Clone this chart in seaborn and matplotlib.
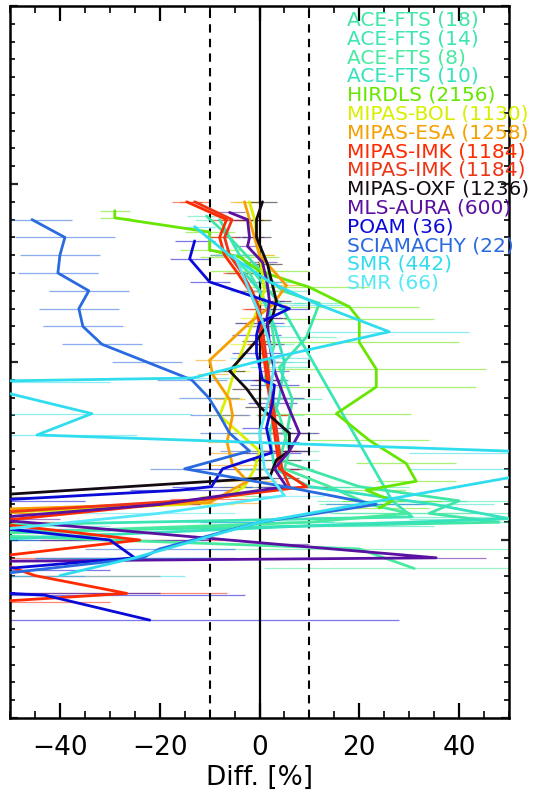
import numpy as np
import pandas as pd
import matplotlib
matplotlib.use("Agg")
import matplotlib.pyplot as plt
from matplotlib.ticker import MultipleLocator
import seaborn as sns

sns.set_theme(style="white")
plt.rcParams["font.family"] = ["DejaVu Sans"]

labels = ["ACE-FTS (18)", "ACE-FTS (14)", "ACE-FTS (8)", "ACE-FTS (10)", "HIRDLS (2156)",
          "MIPAS-BOL (1130)", "MIPAS-ESA (1258)", "MIPAS-IMK (1184)", "MIPAS-IMK (1184)",
          "MIPAS-OXF (1236)", "MLS-AURA (600)", "POAM (36)", "SCIAMACHY (22)", "SMR (442)", "SMR (66)"]
colors = ["#40E6A6", "#3CE6B4", "#48EAA0", "#36E2BE", "#66E600", "#D8F000", "#F5A000",
          "#FF2A00", "#EE3414", "#140A14", "#5A10A0", "#0A0AD8", "#2A6AE0", "#30DDEE", "#55E8F8"]

alt_ace18 = [38.2, 37, 35.5, 34, 33.3, 31.4, 29.7, 27.9, 26, 24.5, 23, 22.2, 21.5, 21, 20.4]
dif_ace18 = [-10.6, -6, -1, 4.6, 12, 9.4, 4, 6.6, 5.5, 4, 20, 40, 34, 48, -60]
err_ace18 = [4, 4, 4, 5, 5, 6, 6, 6, 6, 8, 10, 15, 20, 25, 30]

alt_ace14 = [38, 36, 33.3, 22.2, 21.3, 20.8]
dif_ace14 = [-8, -4, 4, 26.6, 30.6, -60]
err_ace14 = [5, 5, 5, 15, 20, 30]

alt_ace8 = [36, 35, 33, 31, 29, 27, 25, 24, 23, 22, 21.5, 21, 20.3, 19.5, 18.4]
dif_ace8 = [-6, -2, 2, 3, 1, 4, 6, 5, 14, 22, 30, 10, -60, 20, 31]
err_ace8 = [4, 4, 4, 4, 5, 5, 6, 6, 8, 10, 15, 20, 30, 30, 30]

alt_ace10 = [35, 34, 32, 30, 28, 26, 24, 23, 22, 21.2, 20.8, 20]
dif_ace10 = [-3, 0, 3, 5, 4, 2, 3, 10, 35, 50, 10, -55]
err_ace10 = [4, 4, 4, 5, 5, 5, 6, 8, 12, 20, 25, 30]

alt_hirdls = [38.5, 38.1, 37.3, 36.3, 35.9, 35.1, 34.2, 33.1, 32.4, 31.1, 29.6, 28.6, 27.1, 25.6, 24.3, 23.3, 22.8, 22.2, 21.8]
dif_hirdls = [-29, -29, -10, -10, -4, 0, 10, 18, 20, 20, 23.4, 23.4, 15.4, 22, 29.4, 31.4, 21.4, 26.6, 24]
err_hirdls = [3, 3, 5, 6, 8, 10, 12, 14, 15, 20, 22, 20, 15, 12, 10, 8, 8, 10, 10]

alt_bol = [39, 38, 36, 34, 32.5, 31, 29.5, 28, 27, 26, 25, 24, 23, 22.5, 22, 21.5]
dif_bol = [-2, -1, 0, 1, -1, -3, -5, -6.6, -8, -4, 0, -1, -3, -6, -15, -55]
err_bol = [3, 3, 3, 3, 3, 3, 3, 3, 3, 3, 4, 4, 5, 6, 10, 20]

alt_esa = [39, 38, 36, 34.3, 33.2, 32.2, 30.1, 29.3, 27.9, 27, 25.5, 24.9, 24.2, 23.3, 22.1, 21.7]
dif_esa = [-3, -2, 0, 5.4, 2.6, -2, -10, -9.4, -6, -5.4, -6.5, -6, -5.4, -2.4, -10, -55]
err_esa = [3, 3, 3, 3, 3, 3, 3, 3, 3, 3, 4, 4, 5, 6, 10, 20]

alt_imk1 = [39, 38, 37, 36, 35, 34, 33, 32, 31, 30, 29, 28, 27, 26, 25, 24, 23, 22, 21, 20, 19, 18, 17, 16.5]
dif_imk1 = [-14.6, -6.6, -8, -7, -4.4, -2, -0.5, 0, 0.5, 1, 1.5, 2, 2.5, 3, 3.5, 4, 9.4, -20, -55, -24, -55, -45, -26.6, -55]
err_imk1 = [3, 3, 3, 3, 3, 3, 3, 3, 3, 3, 3, 3, 3, 3, 4, 4, 5, 8, 15, 20, 25, 25, 20, 25]

alt_imk2 = [39, 38, 37, 36, 35, 34, 33, 32, 31, 30, 29, 28, 27, 26, 25, 24, 23, 22.3, 21.5]
dif_imk2 = [-13, -5.5, -7, -6, -3.5, -1.5, 0, 0.5, 1, 1.5, 2, 2.5, 3, 3.5, 4, 4.5, 6, -10, -55]
err_imk2 = [3, 3, 3, 3, 3, 3, 3, 3, 3, 3, 3, 3, 3, 3, 4, 4, 5, 8, 15]

alt_oxf = [39, 38, 37, 35.5, 33.4, 32.5, 31.2, 29.5, 28.5, 27.5, 26, 25, 24.5, 23.5, 22.4]
dif_oxf = [0.6, -0.6, -0.6, 1.6, 3.4, 2.6, -0.6, -6, -2.6, 0, 6, 6, 3.4, 2, -60]
err_oxf = [3, 3, 3, 3, 3, 3, 3, 3, 3, 3, 4, 4, 5, 6, 20]

alt_mls = [38.4, 38, 37, 36.5, 35.6, 34.5, 33.4, 32.5, 31, 29.5, 28, 26, 25, 24, 23, 22, 21.2, 19.8, 19.0, 18.8]
dif_mls = [-6, -2.4, -2, -2.4, 0.6, 1.5, 2, 1.5, 2, 3, 5, 8, 6, 3, 5.4, -20, -55, 2, 35.4, -55]
err_mls = [3, 3, 3, 3, 3, 3, 3, 3, 3, 3, 4, 4, 4, 5, 6, 8, 15, 8, 10, 20]

alt_poam = [36.8, 35.8, 34.5, 33, 32.2, 31.5, 30.5, 29, 28.7, 27.7, 26.3, 25.5, 24.9, 24, 23, 22.8, 22.2, 20.6, 20, 19, 18.3, 17, 16.9, 15.5]
dif_poam = [-13, -14, -10, 6, 0, -0.6, -0.6, 0.6, 3, 2.6, 1.4, 2, 2.4, -7.4, -9.6, -16, -55, -50, -30, -25, -55, -50, -43, -22]
err_poam = [4, 4, 4, 4, 5, 5, 5, 5, 5, 5, 5, 6, 6, 6, 8, 10, 20, 20, 20, 20, 25, 30, 40, 50]

alt_scia = [38, 37, 36, 35, 34, 33, 32, 31, 30, 29, 28, 27, 26, 25, 24, 23, 22, 21, 19.5, 19, 18]
dif_scia = [-45.6, -39, -40, -40.4, -34.2, -36.2, -35.4, -31.6, -22.6, -13.6, -10.2, -8, -6, -2, -15, 5, 23.4, 0, -20, -23.4, -55]
err_scia = [8, 10, 8, 8, 8, 8, 8, 8, 7, 7, 6, 6, 6, 6, 7, 8, 10, 12, 15, 15, 20]

alt_smr442 = [37.6, 36, 34.5, 33.2, 31.7, 30.2, 29.1, 28.9, 27.1, 25.9, 24.9, 24, 21, 19, 18]
dif_smr442 = [-13, -6, 2, 12, 26, 2, -13.4, -60, -33.6, -44.6, 60, 60, 0, -25, -40]
err_smr442 = [4, 4, 5, 6, 16, 8, 8, 30, 20, 20, 30, 30, 15, 20, 25]

alt_smr66 = [36, 34, 32, 30, 28, 26, 24, 22.5, 21.5, 20.5]
dif_smr66 = [-5, -2, 1, 3, 2, 0, 1, 5, -20, -55]
err_smr66 = [4, 4, 4, 4, 4, 5, 5, 8, 15, 25]

all_alt = [alt_ace18, alt_ace14, alt_ace8, alt_ace10, alt_hirdls, alt_bol, alt_esa, alt_imk1, alt_imk2,
           alt_oxf, alt_mls, alt_poam, alt_scia, alt_smr442, alt_smr66]
all_dif = [dif_ace18, dif_ace14, dif_ace8, dif_ace10, dif_hirdls, dif_bol, dif_esa, dif_imk1, dif_imk2,
           dif_oxf, dif_mls, dif_poam, dif_scia, dif_smr442, dif_smr66]
all_err = [err_ace18, err_ace14, err_ace8, err_ace10, err_hirdls, err_bol, err_esa, err_imk1, err_imk2,
           err_oxf, err_mls, err_poam, err_scia, err_smr442, err_smr66]

W, H = 535, 797
fig = plt.figure(figsize=(W / 100, H / 100), dpi=100)
ax = fig.add_axes([10 / W, 79 / H, 499 / W, 712 / H])

# error bars
for a, d, e, c in zip(all_alt, all_dif, all_err, colors):
    a = np.array(a); d = np.array(d); e = np.array(e)
    ax.hlines(a, d - e, d + e, color=c, lw=0.9, alpha=0.55, zorder=1)

ax.axvline(0, color="black", lw=1.6, zorder=2)
for xv in (-10, 10):
    ax.axvline(xv, color="black", lw=1.5, ls=(0, (4, 3)), zorder=2)

for a, d, c, lab in zip(all_alt, all_dif, colors, labels):
    df = pd.DataFrame({"diff": d, "alt": a})
    sns.lineplot(data=df, x="diff", y="alt", sort=False, estimator=None, color=c, lw=2.0, ax=ax, zorder=3)

ax.set_xlim(-50, 50)
ax.set_ylim(10, 50)
ax.xaxis.set_major_locator(MultipleLocator(20))
ax.xaxis.set_minor_locator(MultipleLocator(5))
ax.yaxis.set_major_locator(MultipleLocator(10))
ax.yaxis.set_minor_locator(MultipleLocator(1))
ax.tick_params(axis="x", which="major", direction="in", length=11, width=1.6, top=True, bottom=True,
               labelsize=19, pad=12, colors="black")
ax.tick_params(axis="x", which="minor", direction="in", length=5, width=1.4, top=True, bottom=True)
ax.tick_params(axis="y", which="major", direction="in", length=6, width=1.6, left=True, right=True, labelleft=False)
ax.tick_params(axis="y", which="minor", direction="in", length=3.5, width=1.4, left=True, right=True)
ax.set_ylabel("")
ax.set_xlabel("Diff. [%]", fontsize=19, labelpad=3, color="black")
for s in ax.spines.values():
    s.set_color("black")
    s.set_linewidth(1.8)

# legend as coloured text
for i, (lab, c) in enumerate(zip(labels, colors)):
    fig.text(347 / W, 1 - (20 + i * 18.8) / H, lab, color=c, fontsize=14.5, va="center", ha="left")

fig.savefig("out.png", dpi=100)
